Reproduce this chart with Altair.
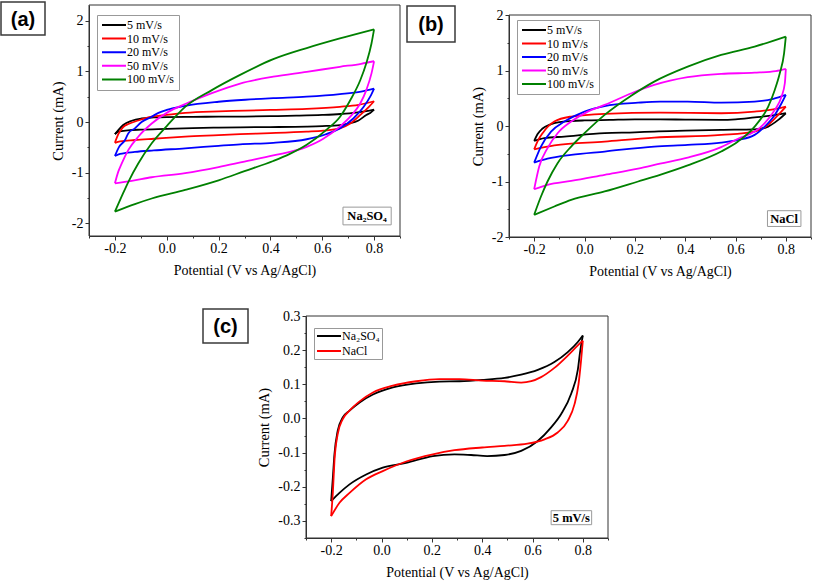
import altair as alt
import pandas as pd

W, H = 813, 581
SERIF = "Liberation Serif"
SANS = "Liberation Sans"

RATES = ["5 mV/s", "10 mV/s", "20 mV/s", "50 mV/s", "100 mV/s"]
RATE_COLORS = ["#000000", "#ff0000", "#0000ff", "#ff00ff", "#008000"]
ELECTROLYTES = ["Na₂SO₄", "NaCl"]
ELECTROLYTE_COLORS = ["#000000", "#ff0000"]

X_TICKS = [-0.3, -0.2, -0.1, 0.0, 0.1, 0.2, 0.3, 0.4, 0.5, 0.6, 0.7, 0.8, 0.9]
Y_TICKS_AB = [-2.0, -1.5, -1.0, -0.5, 0.0, 0.5, 1.0, 1.5, 2.0]
Y_TICKS_C = [-0.35, -0.3, -0.25, -0.2, -0.15, -0.1, -0.05, 0.0, 0.05, 0.1, 0.15, 0.2, 0.25, 0.3]

# ---------------- (a) Na2SO4 ----------------
a5_up = [(-0.2, -0.24), (-0.187, -0.16), (-0.168, -0.06), (-0.135, 0.025), (-0.097, 0.07), (-0.05, 0.09),
         (0.0, 0.098), (0.1, 0.102), (0.2, 0.105), (0.3, 0.108), (0.4, 0.115), (0.5, 0.125), (0.6, 0.14),
         (0.67, 0.158), (0.73, 0.185), (0.77, 0.215), (0.8, 0.245)]
a5_dn = [(0.8, 0.245), (0.785, 0.18), (0.77, 0.14), (0.74, 0.03), (0.70, -0.03), (0.668, -0.06), (0.6, -0.08),
         (0.54, -0.09), (0.4, -0.1), (0.283, -0.105), (0.2, -0.11), (0.1, -0.12), (0.0, -0.135), (-0.1, -0.15),
         (-0.15, -0.165), (-0.187, -0.19), (-0.2, -0.24)]
a10_up = [(-0.2, -0.41), (-0.187, -0.24), (-0.168, -0.1), (-0.148, -0.04), (-0.11, 0.03), (-0.058, 0.105),
          (0.0, 0.14), (0.071, 0.18), (0.2, 0.21), (0.303, 0.225), (0.4, 0.24), (0.54, 0.26), (0.668, 0.30),
          (0.74, 0.34), (0.8, 0.41)]
a10_dn = [(0.8, 0.41), (0.78, 0.30), (0.747, 0.14), (0.708, -0.03), (0.668, -0.125), (0.604, -0.17),
          (0.54, -0.19), (0.4, -0.22), (0.283, -0.24), (0.2, -0.26), (0.071, -0.29), (-0.05, -0.33),
          (-0.123, -0.355), (-0.18, -0.38), (-0.2, -0.41)]
a20_up = [(-0.2, -0.67), (-0.185, -0.5), (-0.161, -0.355), (-0.148, -0.22), (-0.123, -0.125), (-0.097, 0.0),
          (-0.06, 0.1), (-0.032, 0.18), (0.0, 0.24), (0.071, 0.32), (0.2, 0.40), (0.303, 0.44), (0.411, 0.47),
          (0.54, 0.5), (0.668, 0.55), (0.75, 0.6), (0.8, 0.66)]
a20_dn = [(0.8, 0.66), (0.785, 0.5), (0.76, 0.30), (0.72, 0.07), (0.668, -0.125), (0.604, -0.26), (0.54, -0.34),
          (0.411, -0.41), (0.283, -0.44), (0.2, -0.47), (0.071, -0.52), (-0.05, -0.56), (-0.123, -0.59),
          (-0.18, -0.63), (-0.2, -0.67)]
a50_up = [(-0.2, -1.21), (-0.187, -0.98), (-0.174, -0.82), (-0.148, -0.55), (-0.11, -0.29), (-0.058, -0.03),
          (0.006, 0.2), (0.071, 0.355), (0.174, 0.57), (0.283, 0.76), (0.411, 0.895), (0.54, 0.99),
          (0.668, 1.09), (0.75, 1.15), (0.8, 1.2)]
a50_dn = [(0.8, 1.2), (0.79, 0.96), (0.77, 0.63), (0.747, 0.37), (0.708, 0.105), (0.668, -0.09), (0.604, -0.33),
          (0.54, -0.49), (0.411, -0.66), (0.3, -0.78), (0.2, -0.89), (0.071, -1.01), (-0.058, -1.09),
          (-0.135, -1.16), (-0.2, -1.21)]
a100_up = [(-0.2, -1.77), (-0.174, -1.47), (-0.148, -1.18), (-0.11, -0.82), (-0.058, -0.42), (0.0, -0.08),
           (0.071, 0.30), (0.174, 0.63), (0.283, 0.93), (0.411, 1.24), (0.54, 1.46), (0.668, 1.65), (0.8, 1.83)]
a100_dn = [(0.8, 1.83), (0.79, 1.55), (0.77, 1.16), (0.747, 0.83), (0.708, 0.43), (0.668, 0.1), (0.617, -0.15),
           (0.54, -0.45), (0.475, -0.63), (0.411, -0.77), (0.3, -0.97), (0.2, -1.15), (0.071, -1.34),
           (-0.058, -1.51), (-0.123, -1.62), (-0.2, -1.77)]

# ---------------- (b) NaCl ----------------
b5_up = [(-0.2, -0.27), (-0.187, -0.15), (-0.168, -0.05), (-0.135, 0.03), (-0.1, 0.07), (-0.05, 0.09), (0.0, 0.1),
         (0.1, 0.11), (0.2, 0.12), (0.3, 0.12), (0.4, 0.115), (0.543, 0.11), (0.6, 0.12), (0.676, 0.155),
         (0.75, 0.19), (0.8, 0.23)]
b5_dn = [(0.8, 0.23), (0.77, 0.11), (0.73, -0.01), (0.676, -0.06), (0.543, -0.07), (0.4, -0.085), (0.277, -0.10),
         (0.2, -0.115), (0.08, -0.13), (-0.08, -0.19), (-0.16, -0.22), (-0.2, -0.27)]
b10_up = [(-0.2, -0.42), (-0.187, -0.28), (-0.165, -0.12), (-0.12, 0.08), (-0.053, 0.17), (0.08, 0.22),
          (0.3, 0.24), (0.543, 0.23), (0.676, 0.26), (0.75, 0.3), (0.8, 0.35)]
b10_dn = [(0.8, 0.35), (0.77, 0.2), (0.73, 0.02), (0.676, -0.10), (0.543, -0.16), (0.277, -0.21), (0.08, -0.28),
          (-0.12, -0.35), (-0.2, -0.42)]
b20_up = [(-0.2, -0.66), (-0.173, -0.37), (-0.133, -0.1), (-0.08, 0.08), (0.0, 0.26), (0.08, 0.36),
          (0.213, 0.42), (0.3, 0.44), (0.41, 0.44), (0.543, 0.42), (0.676, 0.44), (0.75, 0.49), (0.8, 0.56)]
b20_dn = [(0.8, 0.56), (0.783, 0.41), (0.756, 0.2), (0.716, -0.01), (0.676, -0.16), (0.61, -0.25), (0.543, -0.30),
          (0.41, -0.34), (0.277, -0.37), (0.08, -0.46), (-0.053, -0.52), (-0.147, -0.59), (-0.2, -0.66)]
b50_up = [(-0.2, -1.14), (-0.18, -0.73), (-0.147, -0.4), (-0.107, -0.13), (-0.053, 0.08), (0.013, 0.26),
          (0.08, 0.38), (0.187, 0.59), (0.277, 0.74), (0.41, 0.88), (0.543, 0.94), (0.676, 0.96), (0.76, 0.99),
          (0.8, 1.03)]
b50_dn = [(0.8, 1.03), (0.796, 0.77), (0.783, 0.53), (0.756, 0.29), (0.716, 0.05), (0.676, -0.1), (0.61, -0.23),
          (0.543, -0.38), (0.41, -0.57), (0.3, -0.68), (0.213, -0.77), (0.08, -0.88), (-0.053, -0.99),
          (-0.147, -1.06), (-0.2, -1.14)]
b100_up = [(-0.2, -1.6), (-0.173, -1.27), (-0.147, -1.0), (-0.107, -0.67), (-0.053, -0.37), (0.0, -0.13),
           (0.08, 0.2), (0.187, 0.55), (0.277, 0.8), (0.41, 1.07), (0.543, 1.28), (0.676, 1.43), (0.8, 1.61)]
b100_dn = [(0.8, 1.61), (0.793, 1.31), (0.776, 0.95), (0.756, 0.65), (0.73, 0.35), (0.676, -0.01), (0.61, -0.28),
           (0.543, -0.46), (0.41, -0.71), (0.3, -0.88), (0.213, -1.0), (0.08, -1.18), (-0.053, -1.33),
           (-0.12, -1.45), (-0.2, -1.6)]

# ---------------- (c) 5 mV/s ----------------
c_na2so4_up = [(-0.2, -0.242), (-0.193, -0.17), (-0.187, -0.105), (-0.174, -0.036), (-0.154, 0.003),
               (-0.127, 0.023), (-0.087, 0.047), (-0.034, 0.07), (0.045, 0.091), (0.138, 0.103), (0.23, 0.108),
               (0.31, 0.109), (0.4, 0.113), (0.489, 0.119), (0.555, 0.128), (0.621, 0.142), (0.687, 0.165),
               (0.74, 0.194), (0.78, 0.224), (0.8, 0.243)]
c_na2so4_dn = [(0.8, 0.243), (0.79, 0.2), (0.78, 0.142), (0.754, 0.073), (0.714, 0.013), (0.674, -0.026),
               (0.621, -0.066), (0.555, -0.095), (0.489, -0.107), (0.42, -0.11), (0.356, -0.107), (0.29, -0.105),
               (0.204, -0.11), (0.098, -0.13), (0.005, -0.144), (-0.061, -0.164), (-0.127, -0.193),
               (-0.167, -0.218), (-0.2, -0.242)]
c_nacl_up = [(-0.2, -0.286), (-0.193, -0.213), (-0.187, -0.125), (-0.174, -0.046), (-0.154, -0.002),
             (-0.127, 0.023), (-0.087, 0.05), (-0.034, 0.076), (0.045, 0.096), (0.138, 0.109), (0.23, 0.115),
             (0.31, 0.115), (0.4, 0.111), (0.489, 0.109), (0.555, 0.105), (0.595, 0.109), (0.634, 0.121),
             (0.687, 0.148), (0.74, 0.184), (0.78, 0.214), (0.8, 0.228)]
c_nacl_dn = [(0.8, 0.228), (0.793, 0.17), (0.783, 0.101), (0.767, 0.042), (0.74, -0.007), (0.70, -0.041),
             (0.648, -0.061), (0.58, -0.074), (0.489, -0.08), (0.4, -0.085), (0.29, -0.093), (0.204, -0.105),
             (0.098, -0.126), (0.005, -0.154), (-0.061, -0.178), (-0.127, -0.218), (-0.167, -0.247),
             (-0.2, -0.286)]


def build(series_branches):
    rows = []
    for series, up, dn in series_branches:
        for b, pts in (("anodic", up), ("cathodic", dn)):
            for v, i in pts:
                rows.append({"V": v, "I": i, "series": series, "branch": b})
    return pd.DataFrame(rows)


df_a = build([(RATES[0], a5_up, a5_dn), (RATES[1], a10_up, a10_dn), (RATES[2], a20_up, a20_dn),
              (RATES[3], a50_up, a50_dn), (RATES[4], a100_up, a100_dn)])
df_b = build([(RATES[0], b5_up, b5_dn), (RATES[1], b10_up, b10_dn), (RATES[2], b20_up, b20_dn),
              (RATES[3], b50_up, b50_dn), (RATES[4], b100_up, b100_dn)])
df_c = build([(ELECTROLYTES[0], c_na2so4_up, c_na2so4_dn), (ELECTROLYTES[1], c_nacl_up, c_nacl_dn)])

X_TEST = "abs(round(datum.value*10)) % 2 == 0"
X_LABEL = "abs(round(datum.value*10)) % 2 == 0 ? replace(format(datum.value, '.1f'), '\u2212', '-') : ''"
Y_TEST_AB = "abs(round(datum.value*10)) % 10 == 0"
Y_LABEL_AB = "abs(round(datum.value*10)) % 10 == 0 ? replace(format(datum.value, 'd'), '\u2212', '-') : ''"
Y_TEST_C = "abs(round(datum.value*100)) % 10 == 0"
Y_LABEL_C = "abs(round(datum.value*100)) % 10 == 0 ? replace(format(datum.value, '.1f'), '\u2212', '-') : ''"

AXIS_COMMON = dict(
    labelFont=SERIF, labelFontSize=14, labelColor="black", titleFont=SERIF,
    titleFontWeight="normal", titleColor="black", domainColor="#333333", tickColor="#333333",
    grid=False, labelOverlap=False, labelFlush=False, labelBound=False,
)


def make_panel(df, xr, yr, ydom, yticks, ytest, ylabel, cdom, crng, leg_xy, leg_pad, leg_row, ann, tag):
    xsc = alt.Scale(domain=[-0.3, 0.9], range=[xr[0], xr[1]], nice=False, zero=False)
    ysc = alt.Scale(domain=ydom, range=[yr[0], yr[1]], nice=False, zero=False)
    xax = alt.Axis(orient="bottom", offset=yr[0] - H, values=X_TICKS, labelExpr=X_LABEL,
                   tickSize={"condition": {"test": X_TEST, "value": 4}, "value": 2},
                   title="Potential (V vs Ag/AgCl)", titleFontSize=14, labelPadding=1, titlePadding=8,
                   **AXIS_COMMON)
    yax = alt.Axis(orient="left", offset=-xr[0], values=yticks, labelExpr=ylabel,
                   tickSize={"condition": {"test": ytest, "value": 4}, "value": 2},
                   title="Current (mA)", titleFontSize=14.5, labelPadding=2, titlePadding=6, **AXIS_COMMON)
    X = alt.X("V:Q", scale=xsc, axis=xax)
    Y = alt.Y("I:Q", scale=ysc, axis=yax)

    frame = alt.Chart(pd.DataFrame({"V": [-0.3], "V2": [0.9], "I": [ydom[0]], "I2": [ydom[1]]})).mark_rect(
        fill="transparent", stroke="#333333", strokeWidth=1).encode(x=X, x2="V2", y=Y, y2="I2")

    lines = alt.Chart(df).mark_line(strokeWidth=1.8, interpolate="monotone").encode(
        x=X, y=Y,
        color=alt.Color("series:N", scale=alt.Scale(domain=cdom, range=crng),
                        legend=alt.Legend(orient="none", legendX=leg_xy[0], legendY=leg_xy[1], title=None,
                                          symbolType="stroke", symbolSize=576, symbolStrokeWidth=2,
                                          clipHeight=12, rowPadding=leg_row, padding=leg_pad,
                                          labelOffset=0, symbolOffset=0, strokeColor="#999999",
                                          fillColor="white", labelFont=SERIF, labelFontSize=12,
                                          labelColor="black", labelLimit=200)),
        detail="branch:N",
    )

    atext, av0, av1, ai0, ai1 = ann
    ann_df = pd.DataFrame({"V": [av0], "V2": [av1], "I": [ai0], "I2": [ai1],
                           "Vc": [(av0 + av1) / 2], "Ic": [(ai0 + ai1) / 2], "t": [atext]})
    ann_box = alt.Chart(ann_df).mark_rect(fill="white", stroke="#9a9a9a", strokeWidth=1).encode(
        x=X, x2="V2", y=Y, y2="I2")
    ann_txt = alt.Chart(ann_df).mark_text(font=SERIF, fontWeight="bold", fontSize=12.5, color="black",
                                          baseline="middle", align="center").encode(
        x=alt.X("Vc:Q", scale=xsc, axis=xax), y=alt.Y("Ic:Q", scale=ysc, axis=yax), text="t:N")

    ttext, tx0, ty0, tx1, ty1 = tag
    tag_df = pd.DataFrame({"t": [ttext]})
    tag_box = alt.Chart(tag_df).mark_rect(fill="white", stroke="#3a3a3a", strokeWidth=1.5).encode(
        x=alt.value(tx0), x2=alt.value(tx1), y=alt.value(ty0), y2=alt.value(ty1))
    tag_txt = alt.Chart(tag_df).mark_text(font=SANS, fontWeight="bold", fontSize=20, color="black",
                                          baseline="middle", align="center").encode(
        x=alt.value((tx0 + tx1) / 2), y=alt.value((ty0 + ty1) / 2 + 1), text="t:N")

    return alt.layer(frame, lines, ann_box, ann_txt, tag_box, tag_txt)


pa = make_panel(df_a, (89, 400), (236, 5), [-2.25, 2.31], Y_TICKS_AB, Y_TEST_AB, Y_LABEL_AB,
                RATES, RATE_COLORS, (97, 15), 4, 1.6, ("Na₂SO₄", 0.68, 0.866, -2.03, -1.68),
                ("(a)", 1, 2, 45, 35))
pb = make_panel(df_b, (509, 811), (237, 15), [-2.0, 2.0], Y_TICKS_AB, Y_TEST_AB, Y_LABEL_AB,
                RATES, RATE_COLORS, (517, 20), 4, 1.5, ("NaCl", 0.727, 0.86, -1.81, -1.526),
                ("(b)", 407, 6, 455, 42))
pc = make_panel(df_c, (306, 608), (538, 316), [-0.35, 0.30], Y_TICKS_C, Y_TEST_C, Y_LABEL_C,
                ELECTROLYTES, ELECTROLYTE_COLORS, (314, 328), 2, 3, ("5 mV/s", 0.674, 0.835, -0.311, -0.27),
                ("(c)", 203, 309, 248, 343))

chart = alt.layer(pa, pb, pc).resolve_scale(
    x="independent", y="independent", color="independent"
).resolve_axis(x="independent", y="independent").resolve_legend(color="independent").properties(
    width=W, height=H, autosize=alt.AutoSizeParams(type="none"), padding=0, background="white"
).configure(font=SERIF).configure_axis(
    labelFont=SERIF, titleFont=SERIF, titleFontWeight="normal"
).configure_view(stroke="transparent")

chart.save("out.html", embed_options={"renderer": "svg", "actions": False})
